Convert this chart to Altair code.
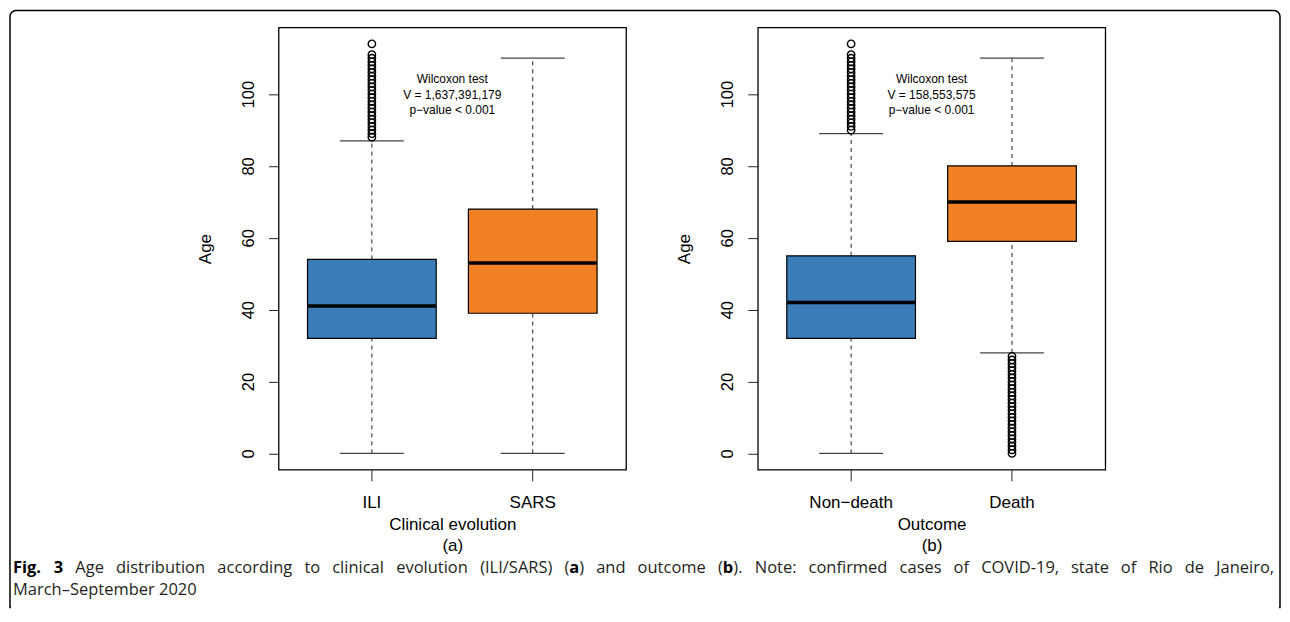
import altair as alt
import pandas as pd

# ---------------- data ----------------
cats_a = ["ILI", "SARS"]
lower_a = [0, 0]
q1_a = [32, 39]
median_a = [41, 53]
q3_a = [54, 68]
upper_a = [87, 110]
outliers_ili = [88, 89, 90, 91, 92, 93, 94, 95, 96, 97, 98, 99, 100, 101, 102,
                103, 104, 105, 106, 107, 108, 109, 110, 111, 114]

cats_b = ["Non\u2212death", "Death"]
lower_b = [0, 28]
q1_b = [32, 59]
median_b = [42, 70]
q3_b = [55, 80]
upper_b = [89, 110]
outliers_nondeath = [90, 91, 92, 93, 94, 95, 96, 97, 98, 99, 100, 101, 102, 103,
                     104, 105, 106, 107, 108, 109, 110, 111, 114]
outliers_death = [0, 1, 2, 3, 4, 5, 6, 7, 8, 9, 10, 11, 12, 13, 14, 15, 16, 17,
                  18, 19, 20, 21, 22, 23, 24, 25, 26, 27]

y_ticks = [0, 20, 40, 60, 80, 100]
box_colors = ["#3A7DB9", "#F28024"]

test_a = "Wilcoxon test\nV = 1,637,391,179\np\u2212value < 0.001"
test_b = "Wilcoxon test\nV = 158,553,575\np\u2212value < 0.001"

caption_line1 = [
    [("Fig.", True)], [("3", True)], [("Age", False)], [("distribution", False)],
    [("according", False)], [("to", False)], [("clinical", False)], [("evolution", False)],
    [("(ILI/SARS)", False)], [("(", False), ("a", True), (")", False)], [("and", False)],
    [("outcome", False)], [("(", False), ("b", True), (").", False)], [("Note:", False)],
    [("confirmed", False)], [("cases", False)], [("of", False)], [("COVID-19,", False)],
    [("state", False)], [("of", False)], [("Rio", False)], [("de", False)], [("Janeiro,", False)],
]
caption_line2 = "March\u2013September 2020"

# ---------------- layout constants ----------------
W, H = 348, 443
YDOM = [-4.56, 118.56]
FONT = "Liberation Sans"
CAP_FONT = "Open Sans"
CAP_SIZE = 16.5

# approximate Open Sans advance widths (em/1000) used to justify the caption line
REG = {" ": 260, "(": 296, ")": 296, ",": 245, "-": 322, ".": 266, "/": 367, ":": 266,
       "A": 633, "C": 631, "D": 729, "I": 279, "J": 267, "L": 519, "N": 754, "O": 779,
       "R": 618, "S": 549, "V": 592, "a": 556, "b": 613, "c": 476, "d": 613, "e": 561,
       "f": 336, "g": 548, "h": 614, "i": 258, "j": 258, "l": 258, "m": 930, "n": 614,
       "o": 604, "p": 613, "r": 409, "s": 478, "t": 353, "u": 614, "v": 501, "w": 778}
BOLD = {"F": 575, "i": 305, "g": 586, ".": 285, "3": 572, "a": 607, "b": 648}


def text_w(s, bold):
    tab = BOLD if bold else REG
    return sum(tab.get(ch, REG.get(ch, 572)) for ch in s) * CAP_SIZE / 1000.0


yscale = alt.Scale(domain=YDOM, nice=False, zero=False)
yaxis = alt.Axis(values=y_ticks, labelAngle=-90, labelAlign="center", labelBaseline="bottom",
                 labelPadding=12, tickSize=10, domain=False, grid=False,
                 labelFontSize=16.5, titleFontSize=17, titleAngle=-90, titleX=-73, titleY=H / 2,
                 titleAlign="center", titleBaseline="middle", titleFontWeight="normal",
                 labelColor="black", titleColor="black", tickColor="#222",
                 labelFlush=False, labelOverlap=False)


def xaxis():
    return alt.Axis(labelAngle=0, domain=False, grid=False, tickSize=11, labelPadding=14,
                    labelFontSize=17, titleFontSize=17, titleFontWeight="normal",
                    titleLineHeight=21, titleBaseline="alphabetic", titleY=60, titleX=W / 2,
                    titleAlign="center", labelColor="black", titleColor="black",
                    tickColor="#222")


def panel(cats, lo, q1, med, q3, hi, out_cats, out_vals, xtitle, tag, test_text):
    df = pd.DataFrame({"cat": cats, "lo": lo, "q1": q1, "med": med, "q3": q3, "hi": hi})
    odf = pd.DataFrame({"cat": out_cats, "age": out_vals})
    xs = alt.Scale(type="band", domain=cats, paddingInner=0.2, paddingOuter=0.18)

    def X():
        return alt.X("cat:N", sort=cats, scale=xs, axis=xaxis(), title=[xtitle, tag])

    def Y(f):
        return alt.Y(f"{f}:Q", scale=yscale, axis=yaxis, title="Age")

    base = alt.Chart(df)
    wh_hi = base.mark_rule(strokeDash=[4, 4], color="#222", strokeWidth=1).encode(
        x=X(), y=Y("q3"), y2="hi")
    wh_lo = base.mark_rule(strokeDash=[4, 4], color="#222", strokeWidth=1).encode(
        x=X(), y=Y("lo"), y2="q1")
    box = base.mark_bar(stroke="black", strokeWidth=1.2, opacity=1).encode(
        x=X(), y=Y("q1"), y2="q3",
        color=alt.Color("cat:N", scale=alt.Scale(domain=cats, range=box_colors), legend=None))
    cap_hi = base.mark_tick(orient="horizontal", size=64, thickness=1.2, color="#444",
                            opacity=1).encode(x=X(), y=Y("hi"))
    cap_lo = base.mark_tick(orient="horizontal", size=64, thickness=1.2, color="#444",
                            opacity=1).encode(x=X(), y=Y("lo"))
    mid = base.mark_tick(orient="horizontal", size=128, thickness=3.5, color="black",
                         opacity=1).encode(x=X(), y=Y("med"))
    pts = alt.Chart(odf).mark_point(shape="circle", filled=False, stroke="black",
                                    strokeWidth=1.4, size=55, opacity=1).encode(
        x=X(), y=Y("age"))
    ann = alt.Chart(alt.Data(values=[{}])).mark_text(
        text=test_text, lineBreak="\n", fontSize=12, lineHeight=15.5, align="center",
        baseline="middle", font=FONT, color="black").encode(
        x=alt.value(W / 2), y=alt.value(52))
    return [wh_hi, wh_lo, box, cap_hi, cap_lo, mid, pts, ann]


layers_a = panel(cats_a, lower_a, q1_a, median_a, q3_a, upper_a,
                 ["ILI"] * len(outliers_ili), outliers_ili,
                 "Clinical evolution", "(a)", test_a)

layers_b = panel(cats_b, lower_b, q1_b, median_b, q3_b, upper_b,
                 [cats_b[0]] * len(outliers_nondeath) + [cats_b[1]] * len(outliers_death),
                 outliers_nondeath + outliers_death,
                 "Outcome", "(b)", test_b)

# ---------------- caption and frame (decoration, positioned from panel a's origin) ----------------
one = alt.Data(values=[{}])
FL, FR, FT, FB = -269, 1003, -17, 581
frame = alt.Chart(one).mark_rect(fillOpacity=0, stroke="black", strokeWidth=1.5,
                                 cornerRadiusTopLeft=6, cornerRadiusTopRight=6).encode(
    x=alt.value(FL), x2=alt.value(FR), y=alt.value(FT), y2=alt.value(FB))
# hide the frame's bottom edge (the reference's frame runs off the bottom of the picture)
frame_mask = alt.Chart(one).mark_rule(color="white", strokeWidth=3).encode(
    x=alt.value(FL + 1), x2=alt.value(FR - 1), y=alt.value(FB))


def cap(txt, x, y, bold=False):
    return alt.Chart(one).mark_text(text=txt, align="left", baseline="middle", font=CAP_FONT,
                                    fontSize=CAP_SIZE, fontWeight="bold" if bold else "normal",
                                    color="black" if bold else "#231f20").encode(
        x=alt.value(x), y=alt.value(y))


# justify line 1 between the frame's inner margins
LEFT, RIGHT = -266, 997
word_w = [sum(text_w(t, b) for t, b in word) for word in caption_line1]
gap = (RIGHT - LEFT - sum(word_w)) / (len(caption_line1) - 1)
caption = []
xpos = LEFT
for word, ww in zip(caption_line1, word_w):
    px = xpos
    for t, b in word:
        caption.append(cap(t, round(px, 1), 541, b))
        px += text_w(t, b)
    xpos += ww + gap
caption.append(cap(caption_line2, LEFT, 563))

chart_a = alt.layer(frame, frame_mask, *layers_a, *caption).properties(width=W, height=H)
chart_b = alt.layer(*layers_b).properties(width=W, height=H)

chart = (
    alt.hconcat(chart_a, chart_b, spacing=132, bounds="flush")
    .resolve_scale(color="independent", x="independent")
    .properties(padding=0, background="white")
    .configure(font=FONT)
    .configure_view(stroke="black", strokeWidth=1.3)
)

chart.save("out.html", embed_options={"renderer": "svg", "actions": False})
